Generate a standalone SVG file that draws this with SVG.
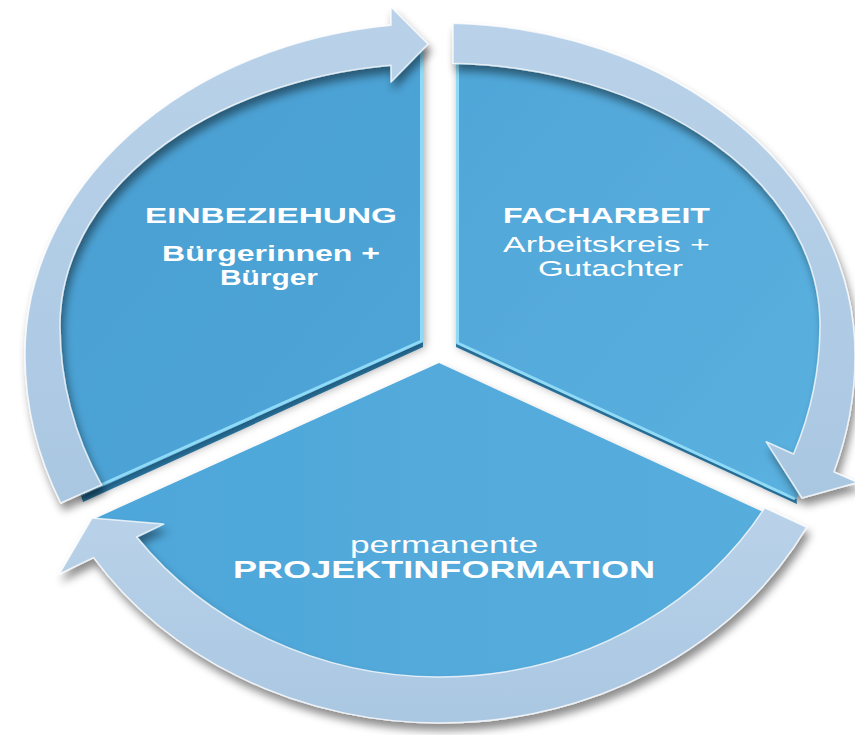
<svg xmlns="http://www.w3.org/2000/svg" width="855" height="735" viewBox="0 0 855 735">
  <defs>
    <style>
      .lbl { fill: #ffffff; font-family: "Liberation Sans", Arial, sans-serif; }
      .b { font-weight: bold; font-size: 22px; }
      .r { font-weight: normal; font-size: 22px; }
      .ring { fill: url(#ringFill); stroke: #ffffff; stroke-opacity: 0.75; stroke-width: 1.5; stroke-linejoin: round; filter: url(#ringShadow); }
      .slice { filter: url(#shadow); }
      .bevel { fill: none; stroke: #8fdaf7; stroke-width: 3; stroke-linejoin: round; }
      .side { fill: #2f86b8; }
    </style>
    <linearGradient id="ringFill" x1="0" y1="0" x2="0" y2="1">
      <stop offset="0" stop-color="#b9d2e9"/>
      <stop offset="1" stop-color="#aac7e2"/>
    </linearGradient>
    <linearGradient id="blueLeft" x1="0" y1="0" x2="1" y2="1">
      <stop offset="0" stop-color="#4a9fd2"/>
      <stop offset="1" stop-color="#4ea5d7"/>
    </linearGradient>
    <linearGradient id="blueRight" x1="0" y1="0" x2="1" y2="1">
      <stop offset="0" stop-color="#4fa6d8"/>
      <stop offset="1" stop-color="#5bb1df"/>
    </linearGradient>
    <linearGradient id="blueBottom" x1="0" y1="0" x2="1" y2="0">
      <stop offset="0" stop-color="#4ea6d9"/>
      <stop offset="1" stop-color="#57aedd"/>
    </linearGradient>
    <filter id="shadow" x="-10%" y="-10%" width="120%" height="125%">
      <feDropShadow dx="2" dy="5" stdDeviation="4" flood-color="#000000" flood-opacity="0.35"/>
    </filter>
    <filter id="ringShadow" x="-10%" y="-10%" width="120%" height="125%">
      <feDropShadow dx="3" dy="7" stdDeviation="4" flood-color="#000000" flood-opacity="0.45"/>
    </filter>
  </defs>

  <!-- upper left segment -->
  <g id="einbeziehung">
    <path class="side" d="M423,342 L81.1,495.9 L83,502 L423,347 Z"/>
    <path class="slice" fill="url(#blueLeft)" d="M423,342 L423,43.3 A397,297 0 0 0 43,340 A397,360 0 0 0 81.1,495.9 Z"/>
    <polyline class="bevel" points="421.5,46 421.5,341 83,493"/>
    <text class="lbl b" x="145" y="223" textLength="252" lengthAdjust="spacingAndGlyphs">EINBEZIEHUNG</text>
    <text class="lbl b" x="162" y="261" textLength="218" lengthAdjust="spacingAndGlyphs">Bürgerinnen +</text>
    <text class="lbl b" x="220" y="285" textLength="98" lengthAdjust="spacingAndGlyphs">Bürger</text>
  </g>

  <!-- upper right segment -->
  <g id="facharbeit">
    <path class="side" d="M456,342 L796.5,499 L797,504 L456,347 Z"/>
    <path class="slice" fill="url(#blueRight)" d="M456,342 L456,43.2 A397,297 0 0 1 837,340 A397,360 0 0 1 796.5,499 Z"/>
    <polyline class="bevel" points="457.5,46 457.5,343 795,499"/>
    <text class="lbl b" x="503" y="223" textLength="207" lengthAdjust="spacingAndGlyphs">FACHARBEIT</text>
    <text class="lbl r" x="503" y="252" textLength="207" lengthAdjust="spacingAndGlyphs">Arbeitskreis +</text>
    <text class="lbl r" x="538" y="276" textLength="145" lengthAdjust="spacingAndGlyphs">Gutachter</text>
  </g>

  <!-- lower segment -->
  <g id="projektinformation">
    <path class="slice" fill="url(#blueBottom)" d="M439,363 L783,521.2 A397,360 0 0 1 95.2,518.4 Z"/>
    <text class="lbl r" x="350" y="553" style="font-size:24px" textLength="188" lengthAdjust="spacingAndGlyphs">permanente</text>
    <text class="lbl b" x="233" y="578" style="font-size:23px" textLength="422" lengthAdjust="spacingAndGlyphs">PROJEKTINFORMATION</text>
  </g>

  <!-- circular arrows running round the segments -->
  <g id="connectors">
    <path class="ring" d="M60.8,503 A415,368 0 0 1 25,355 A415,332 0 0 1 391,25.3 L391,7 L428,44 L391,82 L391,65.2 A380,262 0 0 0 60,325 A380,352 0 0 0 101.5,484.9 Z"/>
    <path class="ring" d="M453,23.2 A415,332 0 0 1 855,355 A415,368 0 0 1 833.9,471.9 L857.6,482.5 L802,498 L766.2,441.8 L793.6,454 A380,352 0 0 0 820,325 A380,262 0 0 0 453,63.2 Z"/>
    <path class="ring" d="M764.7,507.8 L806.8,527.2 A415,368 0 0 1 93.6,557.6 L59.3,574 L92,518 L163.7,524.1 L136.6,537 A380,352 0 0 0 764.7,507.8 Z"/>
  </g>
</svg>
